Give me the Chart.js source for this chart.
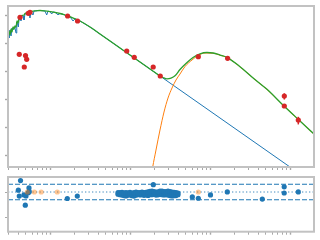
<!DOCTYPE html>
<html>
<head>
<meta charset="utf-8">
<script src="https://cdn.jsdelivr.net/npm/chart.js@4.4.0/dist/chart.umd.min.js"></script>
<style>
  html, body { margin: 0; padding: 0; background: #fff; }
  #wrap { position: relative; width: 320px; height: 240px; overflow: hidden; }
  #sed { position: absolute; left: 0; top: 0; }
  #res { position: absolute; left: 0; top: 170px; }
</style>
</head>
<body>
<div id="wrap">
  <canvas id="sed" width="320" height="175"></canvas>
  <canvas id="res" width="320" height="70"></canvas>
</div>
<script>
// wavelength in micron, flux density in Jy

// stellar photosphere model (blue)
const starWave = [0.299, 0.307, 0.316, 0.326, 0.335, 0.345, 0.355, 0.365, 0.376, 0.384, 0.393, 0.402, 0.410, 0.422, 0.434, 0.447, 0.460, 0.473, 0.487, 0.516, 0.546, 0.562, 0.579, 0.613, 0.631, 0.668, 0.708, 0.750, 0.794, 0.866, 0.909, 0.944, 1.0, 1.050, 1.090, 1.155, 1.259, 1.334, 1.540, 1.631, 1.778, 1.939, 2.054, 2.371, 3.162, 4.217, 23.71, 1995];
const starFlux = [2.39, 1.58, 3.07, 1.87, 3.62, 3.07, 3.93, 3.62, 2.39, 5.94, 5.04, 3.93, 7.61, 8.62, 6.46, 10.2, 9.75, 7.01, 11.5, 12.5, 13.0, 8.27, 13.6, 10.6, 14.7, 15.0, 15.2, 15.4, 15.2, 14.7, 10.6, 14.5, 14.1, 11.5, 13.6, 13.2, 10.8, 12.0, 10.6, 8.62, 9.21, 6.46, 7.74, 6.46, 3.93, 2.20, 0.0685, 9.25e-6];

// cold dust blackbody (orange)
const dustWave = [17.28, 19.22, 21.13, 23.71, 26.61, 29.85, 33.5, 37.58, 42.17, 48.7, 59.57, 70.79, 86.6, 109, 133.4, 163.1, 237.1, 354.8, 515.8, 841.4, 1995];
const dustFlux = [5.54e-6, 3.71e-5, 1.51e-4, 7.89e-4, 3.49e-3, 0.0111, 0.0254, 0.0492, 0.0808, 0.150, 0.257, 0.373, 0.458, 0.451, 0.382, 0.316, 0.1465, 0.0543, 0.0226, 0.00569, 5.62e-4];

// total model (green)
const totalWave = [0.299, 0.307, 0.316, 0.326, 0.335, 0.345, 0.355, 0.365, 0.376, 0.387, 0.398, 0.410, 0.422, 0.447, 0.473, 0.487, 0.531, 0.562, 0.613, 0.668, 0.750, 0.866, 1.0, 1.155, 1.334, 1.540, 1.778, 2.054, 2.371, 3.162, 4.217, 7.499, 13.34, 17.78, 20.54, 23.71, 25.85, 29.0, 32.54, 36.52, 42.17, 51.6, 61.3, 75.0, 91.7, 109, 133.4, 163.1, 237.1, 354.8, 515.8, 841.4, 1334, 1995];
const totalFlux = [2.20, 2.82, 2.03, 3.33, 2.60, 3.93, 3.33, 4.27, 3.93, 6.46, 5.47, 7.93, 8.98, 10.2, 10.6, 12.0, 13.2, 13.8, 14.7, 15.0, 15.4, 14.9, 14.1, 13.2, 12.0, 10.6, 9.21, 7.74, 6.46, 3.93, 2.20, 0.693, 0.218, 0.122, 0.0914, 0.0685, 0.0605, 0.0543, 0.0576, 0.0696, 0.117, 0.209, 0.316, 0.429, 0.478, 0.458, 0.388, 0.321, 0.148, 0.0548, 0.0228, 0.00574, 0.00166, 5.67e-4];

// photometry (red)
const photWave = [0.413, 0.422, 0.477, 0.494, 0.511, 0.535, 0.562, 1.66, 2.21, 9.1, 11.3, 19.5, 23.9, 71.4, 166, 849, 849, 1270];
const photFlux = [0.411, 8.77, 0.144, 0.373, 0.272, 12.2, 13.2, 9.75, 6.46, 0.541, 0.321, 0.144, 0.0686, 0.337, 0.296, 0.0131, 0.00574, 0.0018];
const photErr  = [0, 0, 0, 0, 0, 0, 0, 0, 0, 0, 0, 0, 0, 0, 0, 0.0033, 0, 0.00055];

// residuals
const resWave = [0.402, 0.413, 0.428, 0.473, 0.491, 0.501, 0.535, 0.546, 0.551, 1.645, 2.194, 19.56, 60.1, 71.4, 101.4, 164.5, 450.6, 846.3, 846.3, 1270];
const resVal  = [0.071, -0.157, 0.445, -0.114, -0.512, -0.154, -0.028, 0.157, 0.012, -0.252, -0.157, 0.287, -0.193, -0.244, -0.114, 0.004, -0.276, 0.201, -0.039, 0.004];
const exclWave = [0.520, 0.637, 0.776, 1.234, 71.4];
const exclVal  = [0, 0, 0, 0, 0];
const irsWave = [7.08, 7.50, 7.94, 8.41, 8.91, 9.44, 10.0, 10.59, 11.22, 11.89, 12.59, 13.34, 14.13, 14.96, 15.85, 16.79, 17.78, 18.84, 19.95, 21.13, 22.39, 23.71, 25.12, 26.61, 28.18, 29.85, 31.62, 33.50, 35.48, 37.58, 39.81];
const irsResA = [-0.020, -0.028, -0.012, -0.035, -0.024, -0.031, -0.016, -0.039, -0.028, -0.008, -0.028, -0.020, -0.004, -0.024, -0.012, 0.004, 0.028, 0.035, 0.012, -0.008, 0.008, 0.031, 0.035, 0.012, 0.020, 0.031, 0.012, -0.004, -0.012, -0.024, -0.039];
const irsResB = [-0.087, -0.106, -0.118, -0.138, -0.154, -0.122, -0.106, -0.142, -0.157, -0.126, -0.098, -0.114, -0.106, -0.130, -0.110, -0.134, -0.102, -0.106, -0.091, -0.118, -0.110, -0.098, -0.106, -0.114, -0.102, -0.118, -0.138, -0.154, -0.146, -0.138, -0.106];
const bandLevels = [-0.3, 0.3];
const resTicks = [-1, 0];

const X_MIN = 0.2985, X_MAX = 1995;
const BLUE = '#1f77b4', ORANGE = '#ff7f0e', GREEN = '#2ca02c', RED = '#d62728';
const SPINE = '#c2c2c2', TICK = '#a8a8a8';

const pairs = (xs, ys) => xs.map((x, i) => ({ x: x, y: ys[i] }));

function logTicks(lo, hi, subs) {
    const out = [];
    for (let e = Math.floor(Math.log10(lo)); e <= Math.ceil(Math.log10(hi)); e++) {
        for (const k of subs) {
            const v = k * Math.pow(10, e);
            if (v >= lo * 0.999 && v <= hi * 1.001) out.push({ value: v, major: k === 1 });
        }
    }
    return out;
}

const frame = {
    id: 'frame',
    afterDatasetsDraw(chart) {
        const { ctx, chartArea: a } = chart;
        ctx.save();
        ctx.strokeStyle = SPINE;
        ctx.lineWidth = 2;
        ctx.strokeRect(a.left, a.top, a.right - a.left, a.bottom - a.top);
        ctx.restore();
    }
};

const errorBars = {
    id: 'errorBars',
    afterDatasetsDraw(chart) {
        const { ctx, scales } = chart;
        ctx.save();
        ctx.strokeStyle = RED;
        ctx.lineWidth = 1.5;
        photErr.forEach((err, i) => {
            if (!err) return;
            const x = scales.x.getPixelForValue(photWave[i]);
            ctx.beginPath();
            ctx.moveTo(x, scales.y.getPixelForValue(photFlux[i] - err));
            ctx.lineTo(x, scales.y.getPixelForValue(photFlux[i] + err));
            ctx.stroke();
        });
        ctx.restore();
    }
};

const tickGrid = {
    drawOnChartArea: false,
    tickLength: 3,
    tickColor: TICK,
    tickWidth: (c) => (c.tick && c.tick.major ? 1.4 : 1),
};

const xAxis = {
    type: 'logarithmic',
    min: X_MIN,
    max: X_MAX,
    afterFit: (s) => { s.height = 0; },
    afterBuildTicks: (s) => { s.ticks = logTicks(X_MIN, X_MAX, [1, 2, 3, 4, 5, 6, 7, 8, 9]); },
    ticks: { display: false },
    grid: tickGrid,
    border: { display: false },
};

const common = {
    responsive: false,
    animation: false,
    events: [],
    plugins: { legend: { display: false }, tooltip: { enabled: false } },
};

// SED panel
new Chart(document.getElementById('sed'), {
    type: 'scatter',
    data: {
        datasets: [
            { data: pairs(photWave, photFlux), backgroundColor: RED, borderColor: RED, pointRadius: 2.6, borderWidth: 0, order: 0 },
            { data: pairs(totalWave, totalFlux), showLine: true, borderColor: GREEN, borderWidth: 1.3, pointRadius: 0, cubicInterpolationMode: 'monotone', order: 1 },
            { data: pairs(dustWave, dustFlux), showLine: true, borderColor: ORANGE, borderWidth: 1, pointRadius: 0, cubicInterpolationMode: 'monotone', order: 2 },
            { data: pairs(starWave, starFlux), showLine: true, borderColor: BLUE, borderWidth: 1, pointRadius: 0, order: 3 },
        ]
    },
    options: {
        ...common,
        layout: { padding: { left: 8, top: 6, right: 6, bottom: 8 } },
        scales: {
            x: xAxis,
            y: {
                type: 'logarithmic',
                min: 3.71e-5,
                max: 22.3,
                afterFit: (s) => { s.width = 0; },
                afterBuildTicks: (s) => { s.ticks = logTicks(3.71e-5, 22.3, [1]); },
                ticks: { display: false },
                grid: tickGrid,
                border: { display: false },
            }
        }
    },
    plugins: [errorBars, frame]
});

// residual panel
const span = (v) => [{ x: X_MIN, y: v }, { x: X_MAX, y: v }];

new Chart(document.getElementById('res'), {
    type: 'scatter',
    data: {
        datasets: [
            { data: pairs(exclWave, exclVal), backgroundColor: 'rgba(255,127,14,0.45)', pointRadius: 2.6, borderWidth: 0, order: 0 },
            { data: pairs(resWave, resVal), backgroundColor: BLUE, pointRadius: 2.6, borderWidth: 0, order: 1 },
            { data: pairs(irsWave, irsResA), backgroundColor: BLUE, pointRadius: 2.6, borderWidth: 0, order: 2 },
            { data: pairs(irsWave, irsResB), backgroundColor: BLUE, pointRadius: 2.6, borderWidth: 0, order: 3 },
            { data: span(0), showLine: true, borderColor: 'rgba(31,119,180,0.85)', borderWidth: 1, borderDash: [1.3, 2.2], pointRadius: 0, order: 4 },
            { data: span(bandLevels[0]), showLine: true, borderColor: BLUE, borderWidth: 1.1, borderDash: [5, 2], pointRadius: 0, order: 5 },
            { data: span(bandLevels[1]), showLine: true, borderColor: BLUE, borderWidth: 1.1, borderDash: [5, 2], pointRadius: 0, order: 6 },
        ]
    },
    options: {
        ...common,
        layout: { padding: { left: 8, top: 7, right: 6, bottom: 8.3 } },
        scales: {
            x: xAxis,
            y: {
                type: 'linear',
                min: -1.545,
                max: 0.584,
                afterFit: (s) => { s.width = 0; },
                afterBuildTicks: (s) => { s.ticks = resTicks.map((v) => ({ value: v })); },
                ticks: { display: false },
                grid: tickGrid,
                border: { display: false },
            }
        }
    },
    plugins: [frame]
});
</script>
</body>
</html>
